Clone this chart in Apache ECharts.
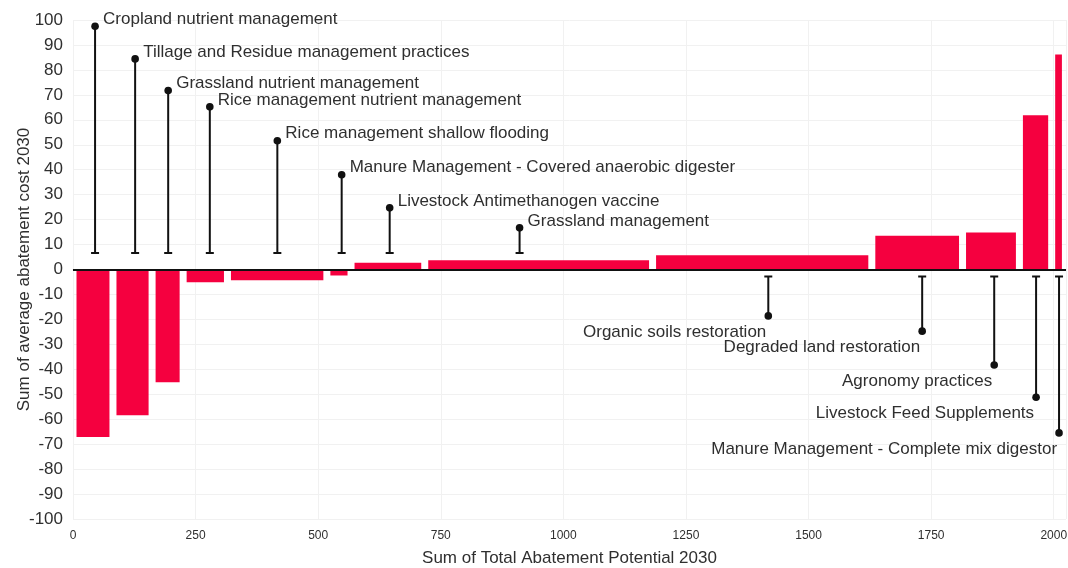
<!DOCTYPE html>
<html>
<head>
<meta charset="utf-8">
<title>Abatement cost curve 2030</title>
<script src="https://cdn.jsdelivr.net/npm/echarts@6/dist/echarts.min.js"></script>
<style>
html, body { margin: 0; padding: 0; background: #fff; }
#chart { width: 1068px; height: 568px; }
</style>
</head>
<body>
<div id="chart"></div>
<script>
// 措施名称 (按成本从低到高)
var measures = [
  'Cropland nutrient management',
  'Tillage and Residue management practices',
  'Grassland nutrient management',
  'Rice management nutrient management',
  'Rice management shallow flooding',
  'Manure Management - Covered anaerobic digester',
  'Livestock Antimethanogen vaccine',
  'Grassland management',
  'Organic soils restoration',
  'Degraded land restoration',
  'Agronomy practices',
  'Livestock Feed Supplements',
  'Manure Management - Complete mix digestor'
];
// 减排潜力 (柱宽)
var potentials = [81.5, 79.8, 63.3, 90.4, 202.7, 49.3, 150.3, 464.6, 447.1, 185, 116, 65.8, 28];
// 平均减排成本 (柱高)
var costs = [-67.1, -58.4, -45.2, -5.1, -4.3, -2.4, 2.7, 3.7, 5.7, 13.5, 14.8, 61.8, 86.2];
// 标注点的位置 (x 与高度)
var labelX = [45, 126.7, 194.1, 279, 416.7, 547.9, 645.8, 910.7, 1417.9, 1731.7, 1878.6, 1964, 2010.8];
var labelHeights = [97.5, 84.4, 71.7, 65.2, 51.6, 38, 24.7, 16.7, -18.6, -24.7, -38.3, -51.2, -65.5];

var FONT = "'Liberation Sans', Arial, Helvetica, sans-serif";
var TEXT_COLOR = '#2f2f2f';

// 累计宽度 -> [起点, 终点, 成本]
var barData = [];
var acc = 0;
for (var i = 0; i < potentials.length; i++) {
  barData.push([acc, acc + potentials[i], costs[i], measures[i]]);
  acc += potentials[i];
}
var stemData = [];
for (var k = 0; k < measures.length; k++) {
  stemData.push([labelX[k], labelHeights[k], measures[k]]);
}

var chart = echarts.init(document.getElementById('chart'));

var option = {
  animation: false,
  grid: { left: 73, right: 2, top: 20, bottom: 49, containLabel: false, outerBoundsMode: 'none' },
  xAxis: {
    type: 'value',
    min: 0,
    max: 2025,
    interval: 250,
    name: 'Sum of Total Abatement Potential 2030',
    nameLocation: 'middle',
    nameGap: 31,
    nameMoveOverlap: false,
    nameTextStyle: { fontFamily: FONT, fontSize: 17, color: TEXT_COLOR },
    axisLine: { show: true, lineStyle: { color: '#e3e3e3', width: 1 } },
    axisTick: { show: false },
    axisLabel: {
      fontFamily: FONT, fontSize: 12, color: TEXT_COLOR, margin: 11,
      formatter: function (v) { return String(v); }
    },
    splitLine: { show: true, lineStyle: { color: '#f1f1f1', width: 1 } }
  },
  yAxis: {
    type: 'value',
    min: -100,
    max: 100,
    interval: 10,
    name: 'Sum of average abatement cost 2030',
    nameLocation: 'middle',
    nameGap: 40,
    nameMoveOverlap: false,
    nameTextStyle: { fontFamily: FONT, fontSize: 17, color: TEXT_COLOR },
    axisLine: { show: false },
    axisTick: { show: false },
    axisLabel: { fontFamily: FONT, fontSize: 17, color: TEXT_COLOR, margin: 10 },
    splitLine: { show: true, lineStyle: { color: '#f1f1f1', width: 1 } }
  },
  series: [
    {
      // 成本柱 (宽度=潜力)
      type: 'custom',
      name: 'cost',
      data: barData,
      encode: { x: [0, 1], y: 2 },
      clip: false,
      renderItem: function (params, api) {
        var p0 = api.coord([api.value(0), 0]);
        var p1 = api.coord([api.value(1), api.value(2)]);
        var inset = 3.5;
        var x = p0[0] + inset;
        var w = Math.max(p1[0] - p0[0] - inset * 2, 1);
        var y = Math.min(p0[1], p1[1]);
        var h = Math.abs(p1[1] - p0[1]);
        return {
          type: 'rect',
          shape: { x: x, y: y, width: w, height: h },
          style: { fill: '#f5003f' }
        };
      },
      markLine: {
        silent: true,
        symbol: 'none',
        label: { show: false },
        lineStyle: { color: '#111', width: 2, type: 'solid' },
        data: [{ yAxis: 0 }]
      },
      z: 2
    },
    {
      // 标注棒棒糖
      type: 'custom',
      name: 'labels',
      data: stemData,
      encode: { x: 0, y: 1 },
      clip: false,
      renderItem: function (params, api) {
        var h = api.value(1);
        var zero = api.coord([api.value(0), 0]);
        var dot = api.coord([api.value(0), h]);
        var up = h > 0;
        var baseY = up ? zero[1] - 16.5 : zero[1] + 7;
        var name = stemData[params.dataIndex][2];
        return {
          type: 'group',
          children: [
            {
              type: 'line',
              shape: { x1: dot[0], y1: baseY, x2: dot[0], y2: dot[1] },
              style: { stroke: '#111', lineWidth: 2 }
            },
            {
              type: 'line',
              shape: { x1: dot[0] - 4, y1: baseY, x2: dot[0] + 4, y2: baseY },
              style: { stroke: '#111', lineWidth: 2 }
            },
            {
              type: 'circle',
              shape: { cx: dot[0], cy: dot[1], r: 3.8 },
              style: { fill: '#111' }
            },
            {
              type: 'text',
              style: {
                text: name,
                x: up ? dot[0] + 8 : dot[0] - 2,
                y: up ? dot[1] - 7 : dot[1] + 16,
                fill: TEXT_COLOR,
                font: '17px ' + FONT,
                align: up ? 'left' : 'right',
                verticalAlign: 'middle'
              }
            }
          ]
        };
      },
      z: 3
    }
  ]
};

chart.setOption(option);
window.addEventListener('resize', function () {
  chart.resize();
});
</script>
</body>
</html>
